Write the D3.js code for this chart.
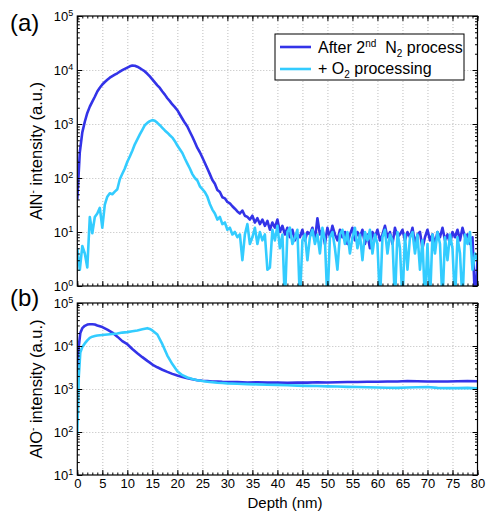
<!DOCTYPE html>
<html>
<head>
<meta charset="utf-8">
<script src="https://cdn.jsdelivr.net/npm/d3@7"></script>
<style>
body { margin: 0; background: #fff; }
text { font-family: "Liberation Sans", Arial, Helvetica, sans-serif; fill: #000; }
.grid line { stroke: #bdbdbd; stroke-dasharray: 1,2; }
.grid path { display: none; }
.tk path { display: none; }
.tk line { stroke: #000; }
</style>
</head>
<body>
<svg id="chart" width="486" height="514"></svg>
<script>

// depth step of the (a) profiles, nm
var depthStepA = 0.5;

// (a) AlN- intensity, after 2nd N2 process, depth 0..80 every 0.5 nm
var alnN2 = [
  40, 300, 700, 1100, 1600, 2100, 2600, 3200, 4000, 4700, 5400, 6000, 6600, 7200, 7700, 8200, 8700, 9300, 9900, 10500, 11100,
  11700, 12100, 12000, 11500, 10800, 10100, 9400, 8500, 7600, 6700, 5900, 5200, 4650, 4000, 3500, 3000, 2650, 2300, 2050, 1800,
  1500, 1250, 1050, 900, 720, 580, 460, 360, 300, 240, 190, 150, 118, 92, 78, 60, 55, 44, 42, 36,
  34, 30, 27, 24, 22, 25, 20, 19, 17, 20,
  15, 18, 14, 17, 13, 16, 11, 15, 12, 17,
  10, 13, 9, 12, 8, 11, 7, 9, 8, 11,
  7, 10, 9, 12, 7, 18, 9, 11, 6, 12,
  8, 13, 9, 7, 11, 8, 10, 6, 9, 12,
  7, 10, 8, 11, 6, 9, 5, 10, 8, 11,
  7, 9, 13, 8, 10, 6, 12, 8, 9, 11,
  7, 10, 8, 12, 6, 9, 10, 5, 8, 11,
  7, 9, 6, 10, 8, 12, 7, 9, 6, 10,
  8, 11, 7, 12, 8, 9, 6, 8, 0.5, 3
];

// (a) AlN- intensity, + O2 processing, depth 0..80 every 0.5 nm
var alnO2 = [
  5, 2, 5.5, 4, 2.2, 19, 9.5, 19, 22, 28, 12, 32, 45, 52, 50, 56, 62, 95, 120, 150, 200,
  250, 320, 420, 520, 640, 780, 950, 1050, 1130, 1180, 1150, 1050, 950, 850, 760, 690, 620, 560, 480, 400,
  340, 290, 230, 185, 150, 118, 100, 90, 70, 62, 55, 45, 33, 26, 22, 17, 19, 14, 15, 11,
  12, 9, 10, 8, 9, 3, 9, 14, 6, 8,
  12, 6, 10, 7, 9, 2, 2.2, 11, 7, 13,
  5, 9, 0.5, 10, 12, 6, 8, 11, 0.5, 7,
  9, 3, 8, 11, 6, 9, 4, 12, 7, 0.5,
  8, 10, 5, 2, 9, 11, 6, 10, 4, 8,
  12, 5, 9, 3, 10, 7, 11, 4, 9, 6,
  0.5, 8, 11, 4, 9, 7, 0.5, 10, 5, 0.5,
  9, 2, 8, 10, 4, 9, 2, 7, 0.5, 6,
  0.5, 9, 4, 10, 6, 0.5, 8, 3, 9, 5,
  0.5, 8, 4, 0.5, 9, 6, 10, 2, 4, 3
];

// (b) depth samples, nm
var depthB = [0, 0.3, 0.6, 1, 1.5, 2, 2.5, 3, 3.5, 4, 5, 6, 7, 8, 9, 10, 11, 12, 13, 14, 14.5, 15, 16, 17, 18, 19, 20,
  21, 22, 23, 24, 25, 26, 27, 28, 29, 30, 32, 34, 36, 38, 40, 42, 44, 46, 48, 50, 52, 54, 56, 58, 60,
  62, 64, 66, 68, 70, 72, 74, 76, 78, 80];

// (b) AlO- intensity, after 2nd N2 process
var aloN2 = [2500, 10000, 20000, 26000, 29500, 31500, 32000, 32000, 31500, 30000, 27500, 24000, 20500, 16500, 13000, 11000, 8500, 6800, 5500, 4500, 4100, 3700, 3200, 2800, 2500, 2250, 2050,
  1900, 1780, 1680, 1600, 1550, 1530, 1500, 1490, 1470, 1460, 1450, 1420, 1430, 1410, 1420, 1400, 1420, 1410, 1430, 1420, 1440, 1450, 1460, 1470, 1480,
  1490, 1500, 1530, 1510, 1500, 1490, 1500, 1510, 1530, 1520];

// (b) AlO- intensity, + O2 processing
var aloO2 = [90, 2000, 7000, 9500, 11500, 13500, 15500, 16500, 17000, 17500, 18000, 18500, 19000, 19500, 20500, 21000, 22000, 23000, 24500, 26000, 25000, 23000, 18500, 11000, 6000, 3800, 2600,
  2100, 1850, 1700, 1600, 1530, 1480, 1440, 1400, 1380, 1350, 1320, 1300, 1280, 1260, 1250, 1220, 1200, 1180, 1170, 1150, 1140, 1120, 1110, 1100, 1080,
  1070, 1060, 1080, 1100, 1110, 1060, 1050, 1050, 1060, 1040];

var seriesColors = ["#3333e8", "#33ccff"];

var svg = d3.select("#chart");

var xLeft = 77.3, xRight = 477.5;
var x = d3.scaleLinear().domain([0, 80]).range([xLeft, xRight]);

var yA = d3.scaleLog().domain([1, 1e5]).range([286, 16]);
var yB = d3.scaleLog().domain([10, 1e5]).range([475, 303]);

var depthA = alnN2.map(function(v, i) { return i * depthStepA; });

function zipped(xs, ys) {
  return ys.map(function(v, i) { return [xs[i], v]; });
}

function minorLog(lo, hi) {
  var out = [];
  for (var e = lo; e < hi; e++)
    for (var m = 2; m <= 9; m++) out.push(m * Math.pow(10, e));
  return out;
}

function drawPanel(id, y, lo, hi, series, showXLabels) {
  var top = y.range()[1], bottom = y.range()[0];
  var g = svg.append("g");

  g.append("clipPath").attr("id", "clip" + id)
    .append("rect")
    .attr("x", xLeft).attr("y", top)
    .attr("width", xRight - xLeft).attr("height", bottom - top);

  // dotted grid
  g.append("g").attr("class", "grid")
    .attr("transform", "translate(0," + bottom + ")")
    .call(d3.axisBottom(x).tickValues(d3.range(5, 80, 5)).tickSize(-(bottom - top)).tickFormat(""));
  g.append("g").attr("class", "grid")
    .attr("transform", "translate(" + xLeft + ",0)")
    .call(d3.axisLeft(y).tickValues(d3.range(lo + 1, hi).map(function(e) { return Math.pow(10, e); }))
      .tickSize(-(xRight - xLeft)).tickFormat(""));

  var line = d3.line()
    .x(function(d) { return x(d[0]); })
    .y(function(d) { return y(d[1]); });

  g.append("g").attr("clip-path", "url(#clip" + id + ")")
    .selectAll("path")
    .data(series)
    .enter().append("path")
    .attr("d", function(d) { return line(d); })
    .attr("fill", "none")
    .attr("stroke", function(d, i) { return seriesColors[i]; })
    .attr("stroke-width", 2.6)
    .attr("stroke-linejoin", "round");

  var decades = d3.range(lo, hi + 1).map(function(e) { return Math.pow(10, e); });
  var minors = minorLog(lo, hi);

  // inward ticks on all four sides
  g.append("g").attr("class", "tk").attr("transform", "translate(0," + bottom + ")")
    .call(d3.axisBottom(x).tickValues(d3.range(0, 81, 5)).tickSize(-5).tickPadding(4)
      .tickFormat(showXLabels ? d3.format("d") : ""))
    .selectAll("text").style("font-size", "13px");
  g.append("g").attr("class", "tk").attr("transform", "translate(0," + bottom + ")")
    .call(d3.axisBottom(x).tickValues(d3.range(0, 81, 1)).tickSize(-2.5).tickFormat(""));
  g.append("g").attr("class", "tk").attr("transform", "translate(0," + top + ")")
    .call(d3.axisTop(x).tickValues(d3.range(0, 81, 5)).tickSize(-5).tickFormat(""));
  g.append("g").attr("class", "tk").attr("transform", "translate(0," + top + ")")
    .call(d3.axisTop(x).tickValues(d3.range(0, 81, 1)).tickSize(-2.5).tickFormat(""));

  var left = g.append("g").attr("class", "tk").attr("transform", "translate(" + xLeft + ",0)")
    .call(d3.axisLeft(y).tickValues(decades).tickSize(-5).tickPadding(4));
  left.selectAll(".tick text").each(function(d) {
    var t = d3.select(this);
    t.text(null).style("font-size", "13px");
    t.append("tspan").text("10");
    t.append("tspan").attr("dy", "-0.55em").style("font-size", "9px").text(Math.round(Math.log10(d)));
  });
  g.append("g").attr("class", "tk").attr("transform", "translate(" + xLeft + ",0)")
    .call(d3.axisLeft(y).tickValues(minors).tickSize(-2.5).tickFormat(""));
  g.append("g").attr("class", "tk").attr("transform", "translate(" + xRight + ",0)")
    .call(d3.axisRight(y).tickValues(decades).tickSize(-5).tickFormat(""));
  g.append("g").attr("class", "tk").attr("transform", "translate(" + xRight + ",0)")
    .call(d3.axisRight(y).tickValues(minors).tickSize(-2.5).tickFormat(""));

  g.append("rect")
    .attr("x", xLeft).attr("y", top)
    .attr("width", xRight - xLeft).attr("height", bottom - top)
    .attr("fill", "none").attr("stroke", "#000").attr("stroke-width", 1.2);
  return g;
}

drawPanel("a", yA, 0, 5, [zipped(depthA, alnN2), zipped(depthA, alnO2)], false);
drawPanel("b", yB, 1, 5, [zipped(depthB, aloN2), zipped(depthB, aloO2)], true);

// panel tags
svg.append("text").attr("x", 10).attr("y", 31).style("font-size", "24px").text("(a)");
svg.append("text").attr("x", 10).attr("y", 306).style("font-size", "24px").text("(b)");

// axis titles
function yTitle(cx, cy, mol) {
  var t = svg.append("text")
    .attr("transform", "translate(" + cx + "," + cy + ") rotate(-90)")
    .attr("text-anchor", "middle")
    .style("font-size", "16.5px");
  t.append("tspan").text(mol);
  t.append("tspan").attr("dy", -6).style("font-size", "10px").text("-");
  t.append("tspan").attr("dy", 6).text(" intensity (a.u.)");
}
yTitle(41.5, (yA.range()[0] + yA.range()[1]) / 2, "AlN");
yTitle(41.5, (yB.range()[0] + yB.range()[1]) / 2, "AlO");

svg.append("text").attr("x", 285).attr("y", 508).attr("text-anchor", "middle")
  .style("font-size", "15px").text("Depth (nm)");

// legend
var leg = svg.append("g");
leg.append("rect").attr("x", 275).attr("y", 34).attr("width", 189).attr("height", 46)
  .attr("fill", "#fff").attr("stroke", "#000").attr("stroke-width", 1);
leg.selectAll("line.key")
  .data(seriesColors)
  .enter().append("line")
  .attr("x1", 280).attr("x2", 311)
  .attr("y1", function(d, i) { return 47 + i * 22; })
  .attr("y2", function(d, i) { return 47 + i * 22; })
  .attr("stroke", function(d) { return d; })
  .attr("stroke-width", 2.6);

var t1 = leg.append("text").attr("x", 318).attr("y", 53).style("font-size", "16px");
t1.append("tspan").text("After 2");
t1.append("tspan").attr("dy", -6).style("font-size", "10px").text("nd");
t1.append("tspan").attr("dy", 6).text("\u00a0 N");
t1.append("tspan").attr("dy", 4).style("font-size", "10px").text("2");
t1.append("tspan").attr("dy", -4).text(" process");

var t2 = leg.append("text").attr("x", 318).attr("y", 74).style("font-size", "16px");
t2.append("tspan").text("+ O");
t2.append("tspan").attr("dy", 4).style("font-size", "10px").text("2");
t2.append("tspan").attr("dy", -4).text(" processing");

</script>
</body>
</html>
